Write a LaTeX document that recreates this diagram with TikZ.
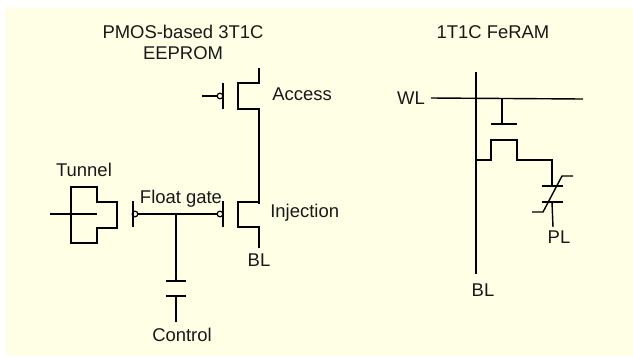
\documentclass[tikz,border=0pt]{standalone}
\usepackage{fontspec}
\setmainfont{Liberation Sans}
\definecolor{paper}{RGB}{255,255,229}
\tikzset{
  wire/.style={line width=0.8pt,black},
  label/.style={inner sep=0pt,font=\fontsize{10.5pt}{12pt}\selectfont,text=black!90},
  bubble/.style={circle,draw,line width=0.7pt,fill=paper,inner sep=0pt,minimum size=3.2pt}
}

\begin{document}
\begin{tikzpicture}[x=0.02cm,y=-0.02cm]
    \useasboundingbox (0,0) rectangle (633,356);
    \fill[paper] (6,8) rectangle (633,356);
    % titles
    \node[label,align=center] (titleA) at (183,42) {PMOS-based 3T1C\\EEPROM};
    \node[label] (titleB) at (493,32) {1T1C FeRAM};
    % access transistor
    \node[bubble] (bubA) at (220,96) {};
    \coordinate (gateA) at (202,96);
    \draw[wire] (223,83) -- (223,109);
    \draw[wire] (gateA) -- (bubA);
    \draw[wire] (259,68) -- (259,83) -- (238,83) -- (238,109) -- (259,109) -- (259,204);
    \node[label,anchor=west] (access) at (272,94) {Access};
    % injection transistor
    \node[bubble] (bubI) at (220,214) {};
    \node[bubble] (bubT) at (135,214) {};
    \coordinate (jct) at (176,214);
    \draw[wire] (223,201) -- (223,227);
    \draw[wire] (133,201) -- (133,227);
    \draw[wire] (bubT) -- (bubI);
    \draw[wire] (259,190) -- (259,202) -- (238,202) -- (238,227) -- (259,227) -- (259,248);
    \node[label,anchor=west] (injection) at (270,213) {Injection};
    \node[label] (blA) at (259,260) {BL};
    \node[label] (float) at (181,199) {Float gate};
    % tunnel
    \node[label] (tunnel) at (84,170) {Tunnel};
    \coordinate (tunL) at (50,214);
    \coordinate (tunR) at (97,214);
    \draw[wire] (tunL) -- (tunR);
    \draw[wire] (71,187) -- (97,187) -- (97,202) -- (117,202) -- (117,228) -- (97,228) -- (97,243) -- (71,243) -- cycle;
    % control capacitor
    \coordinate (ctlA) at (176,281);
    \coordinate (ctlB) at (176,322);
    \draw[wire] (jct) -- (ctlA);
    \draw[wire] (166,281) -- (186,281);
    \draw[wire] (166,296) -- (186,296);
    \draw[wire] (176,296) -- (ctlB);
    \node[label] (control) at (182,335) {Control};
    % FeRAM
    \node[label] (wl) at (411,98) {WL};
    \node[label] (blB) at (483,290) {BL};
    \node[label] (pl) at (559,237) {PL};
    \coordinate (wlL) at (431,98);
    \coordinate (wlR) at (583,99);
    \coordinate (blT) at (476,72);
    \coordinate (blD) at (476,274);
    \draw[wire] (wlL) -- (wlR);
    \draw[wire] (blT) -- (blD);
    \draw[wire] (502,98) -- (502,124);
    \draw[wire] (491,124) -- (517,124);
    \draw[wire] (476,160) -- (491,160) -- (491,140) -- (517,140) -- (517,160) -- (552,160) -- (552,186);
    \draw[wire] (542,186) -- (563,186);
    \draw[wire] (542,202) -- (563,202);
    \draw[wire] (552,202) -- (553,227);
    \draw[wire] (573,176) -- (562,176) -- (543,212) -- (532,212);
\end{tikzpicture}
\end{document}
